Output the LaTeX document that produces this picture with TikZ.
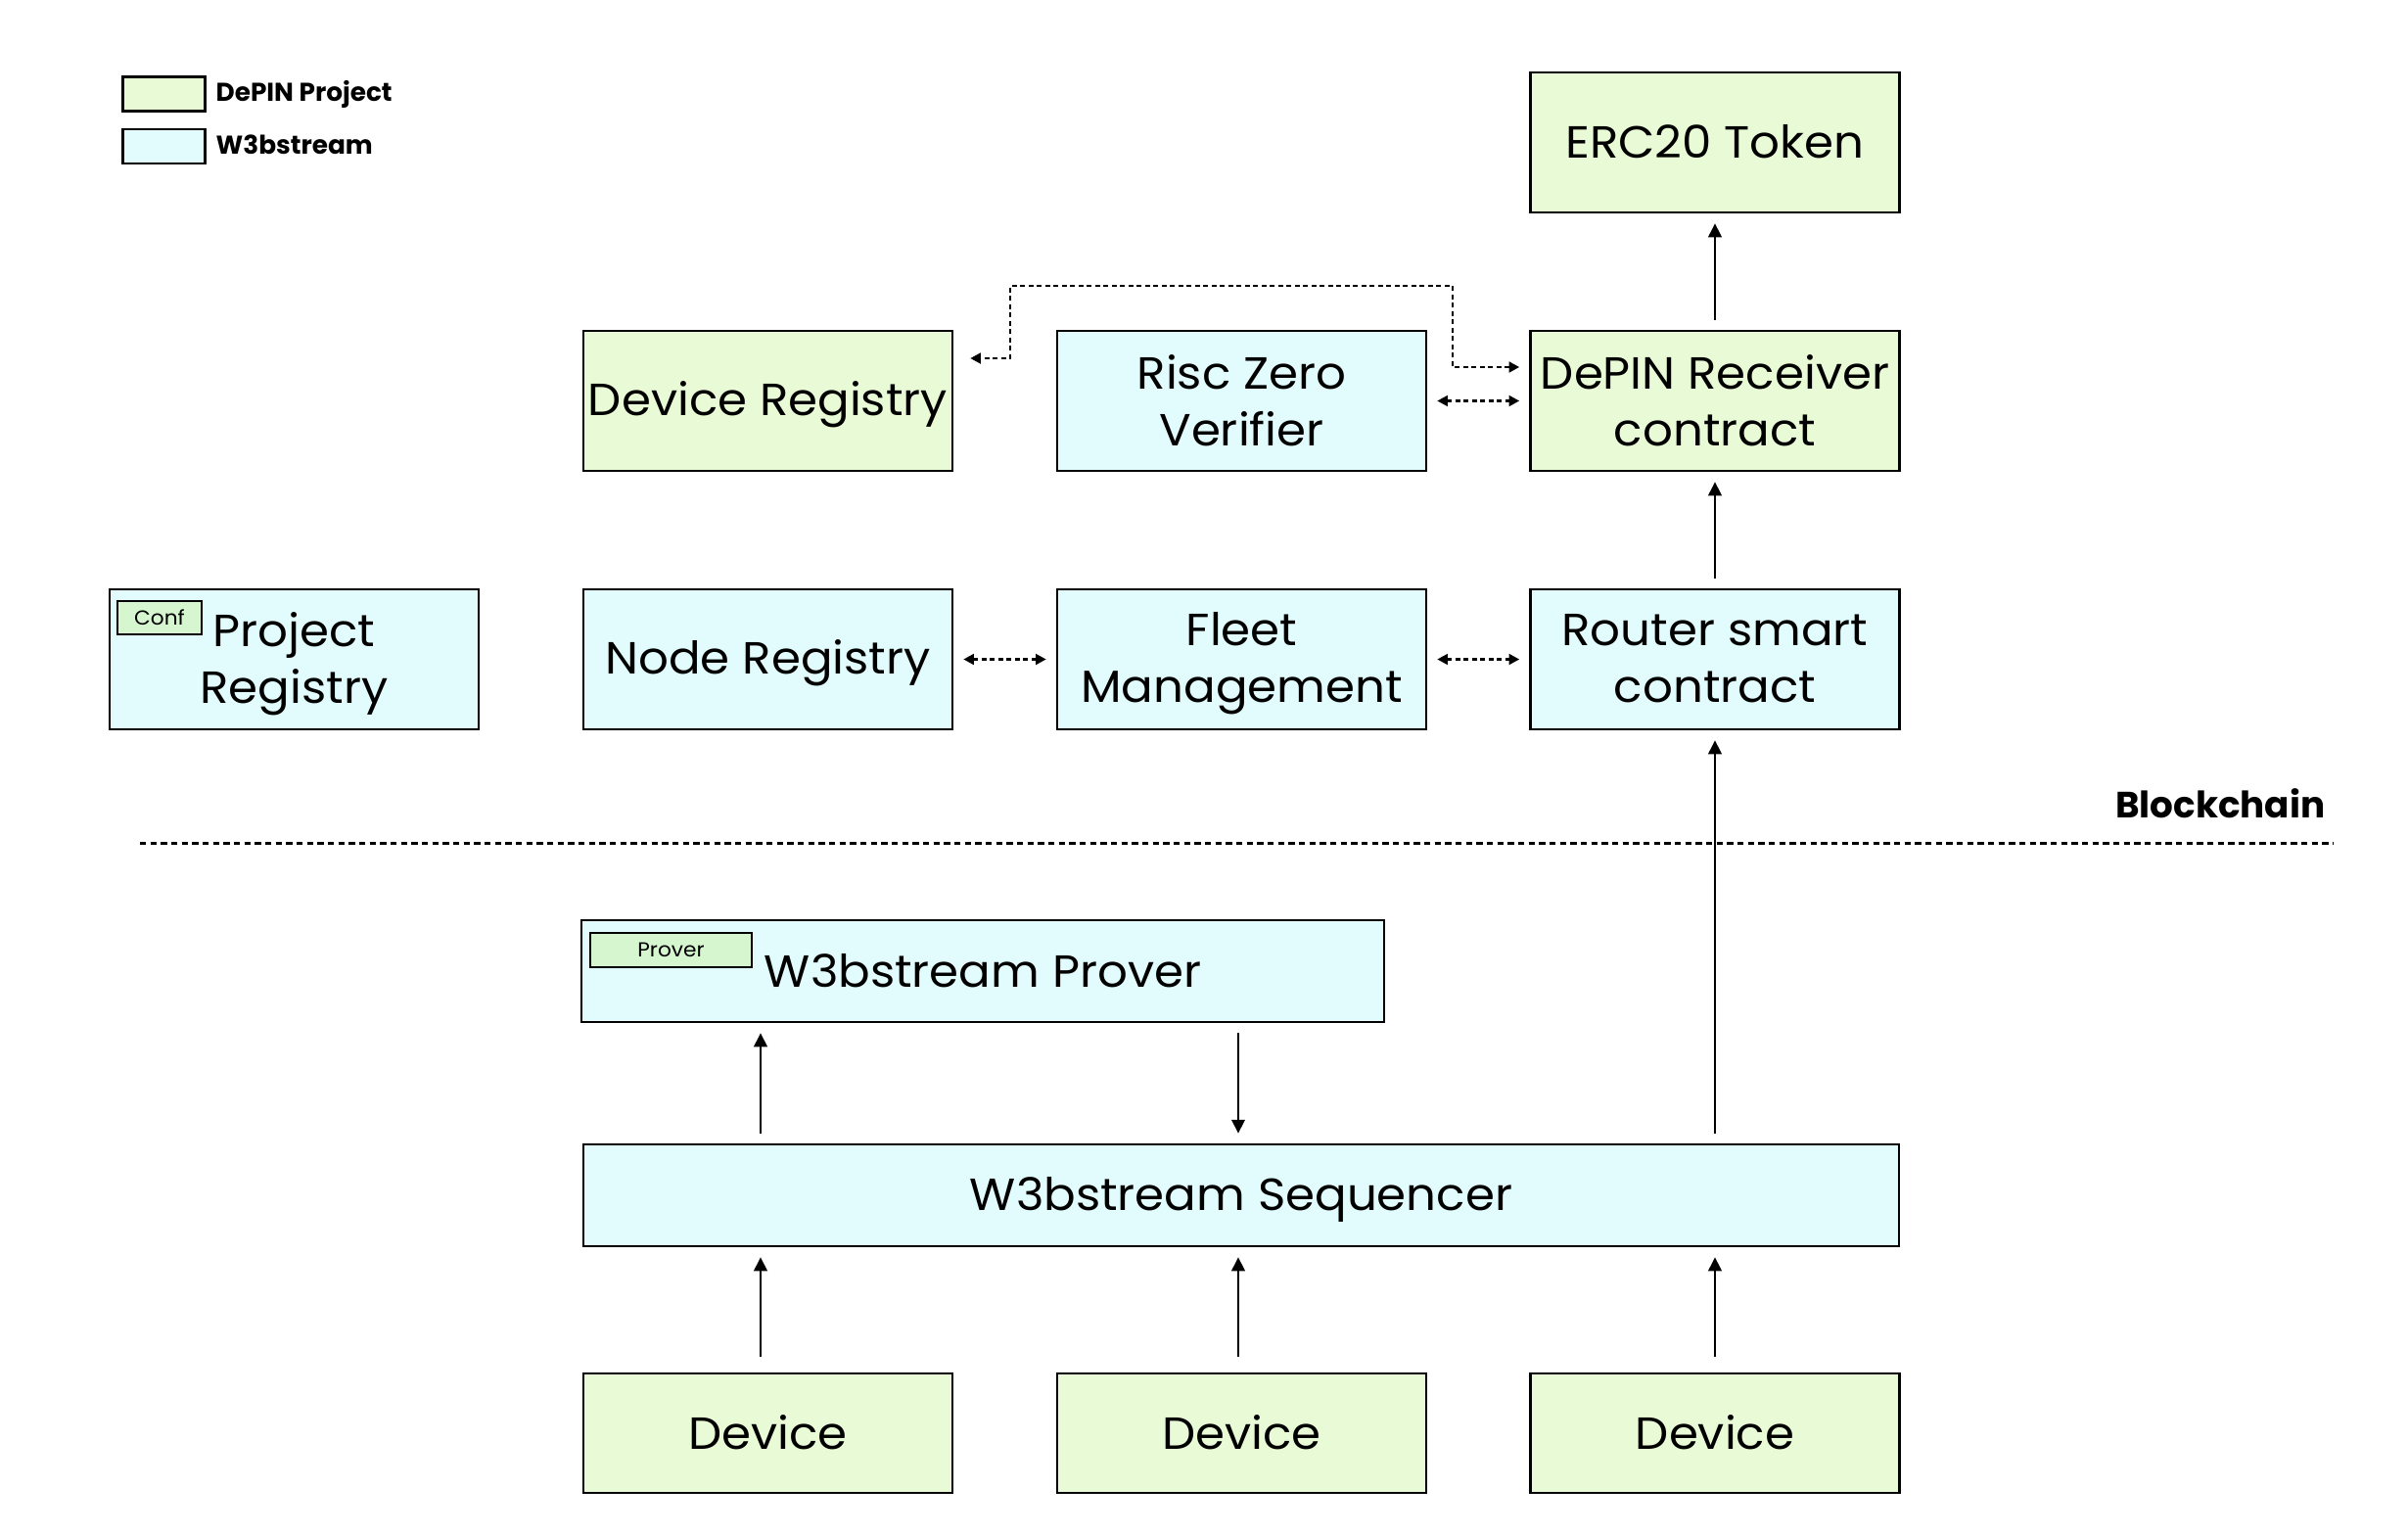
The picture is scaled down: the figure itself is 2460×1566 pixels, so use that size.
\documentclass[tikz,border=0pt]{standalone}
\usepackage{fontspec}
\setmainfont[FakeStretch=1.05]{Poppins}
\newfontfamily\legfont{Poppins}
\usetikzlibrary{arrows.meta,calc}
\definecolor{dpgreen}{HTML}{E9FBD6}
\definecolor{wscyan}{HTML}{E2FCFD}
\definecolor{taggreen}{HTML}{D6F6CF}
\newcommand{\bxs}{\rule[-3.4pt]{0pt}{16.4pt}}
\tikzset{
  box/.style={draw=black, line width=0.75pt, rectangle, align=center, inner sep=0pt,
    font=\fontsize{13.8pt}{17.4pt}\selectfont,
    execute at begin node=\bxs, execute at end node=\bxs},
  txt/.style={align=center, inner sep=0pt, font=\fontsize{13.8pt}{17.4pt}\selectfont,
    execute at begin node=\bxs, execute at end node=\bxs},
  dp/.style={box, fill=dpgreen},
  ws/.style={box, fill=wscyan},
  std/.style={minimum width=113.1pt, minimum height=42.9pt},
  tagbox/.style={draw=black, line width=0.5pt, fill=taggreen, inner sep=0pt,
    font=\fontsize{6.2pt}{7pt}\selectfont},
  legbox/.style={draw=black, line width=0.75pt, minimum width=25.2pt, minimum height=10.5pt, inner sep=0pt},
  legtxt/.style={anchor=base west, inner sep=0pt, font=\legfont\fontsize{7.9pt}{9pt}\selectfont\bfseries},
  arr/.style={line width=0.85pt, -{Triangle[length=4.2pt,width=4pt]}, shorten <=3pt, shorten >=3pt},
  darr/.style={line width=0.85pt, dash pattern=on 1.5pt off 1.05pt, {Triangle[length=3.2pt,width=3.2pt]}-{Triangle[length=3.2pt,width=3.2pt]}, shorten <=3pt, shorten >=3pt},
}
\begin{document}
\begin{tikzpicture}[x=0.3pt,y=-0.3pt]
\useasboundingbox (0,0) rectangle (2460,1566);
% legend
\node[legbox, fill=dpgreen] (lg1) at (167.5,96) {};
\node[legtxt] (lt1) at (220,103) {DePIN Project};
\node[legbox, fill=wscyan] (lg2) at (167.5,149.5) {};
\node[legtxt] (lt2) at (220,157) {W3bstream};
% top rows
\node[dp, std] (erc) at (1752,145.5) {ERC20 Token};
\node[dp, std] (devreg) at (784.5,409.5) {Device Registry};
\node[ws, std] (risc) at (1268.5,409.5) {};
\node[txt] (risct) at ([yshift=-1.4pt]risc.center) {Risc Zero\\Verifier};
\node[dp, std] (recv) at (1752,409.5) {};
\node[txt] (recvt) at ([yshift=-1.4pt]recv.center) {DePIN Receiver\\contract};
\node[ws, std] (proj) at (300.5,673.5) {};
\node[txt] (projt) at ([yshift=-1.4pt]proj.center) {Project\\Registry};
\node[tagbox, minimum width=25.8pt, minimum height=10.2pt] (conf) at (163,631) {Conf};
\node[ws, std] (nodereg) at (784.5,673.5) {Node Registry};
\node[ws, std] (fleet) at (1268.5,673.5) {};
\node[txt] (fleett) at ([yshift=-1.4pt]fleet.center) {Fleet\\Management};
\node[ws, std] (router) at (1752,673.5) {};
\node[txt] (routert) at ([yshift=-1.4pt]router.center) {Router smart\\contract};
% blockchain line
\coordinate (bl1) at (143,861);
\coordinate (bl2) at (2384,861);
\draw[line width=0.9pt, dash pattern=on 1.9pt off 1.3pt] (bl1) -- (bl2);
\node[anchor=base east, inner sep=0pt, font=\legfont\fontsize{11.2pt}{12pt}\selectfont\bfseries] (bc) at (2376,835) {Blockchain};
% lower part
\node[ws, minimum width=246pt, minimum height=31.2pt] (prover) at (1004,992) {W3bstream Prover};
\node[tagbox, minimum width=49.5pt, minimum height=10.5pt] (ptag) at (685.5,970.5) {Prover};
\node[ws, minimum width=403.2pt, minimum height=31.2pt] (seq) at (1268,1221) {W3bstream Sequencer};
\node[dp, minimum width=113.1pt, minimum height=36.6pt] (dev1) at (784.5,1464) {Device};
\node[dp, minimum width=113.1pt, minimum height=36.6pt] (dev2) at (1268.5,1464) {Device};
\node[dp, minimum width=113.1pt, minimum height=36.6pt] (dev3) at (1752,1464) {Device};
% solid arrows
\coordinate (xa) at (777,0);
\coordinate (xb) at (1265,0);
\coordinate (xc) at (1752,0);
\draw[arr, shorten <=4.8pt] (dev1.north -| xa) -- (seq.south -| xa);
\draw[arr, shorten <=4.8pt] (dev2.north -| xb) -- (seq.south -| xb);
\draw[arr, shorten <=4.8pt] (dev3.north -| xc) -- (seq.south -| xc);
\draw[arr] (seq.north -| xa) -- (prover.south -| xa);
\draw[arr] (prover.south -| xb) -- (seq.north -| xb);
\draw[arr] (seq.north -| xc) -- (router.south -| xc);
\draw[arr] (router) -- (recv);
\draw[arr] (recv.north) -- (erc.south);
% dotted arrows
\draw[darr] (nodereg.east) -- (fleet.west);
\draw[darr] (fleet.east) -- (router.west);
\draw[darr] (risc.east) -- (recv.west);
\coordinate (p1) at (1484,375);
\coordinate (p2) at (1484,292);
\coordinate (p3) at (1032,292);
\coordinate (p4) at (1032,366);
\draw[darr, shorten >=5.1pt] (recv.west |- p1) -- (p1) -- (p2) -- (p3) -- (p4) -- (devreg.east |- p4);
\end{tikzpicture}
\end{document}
